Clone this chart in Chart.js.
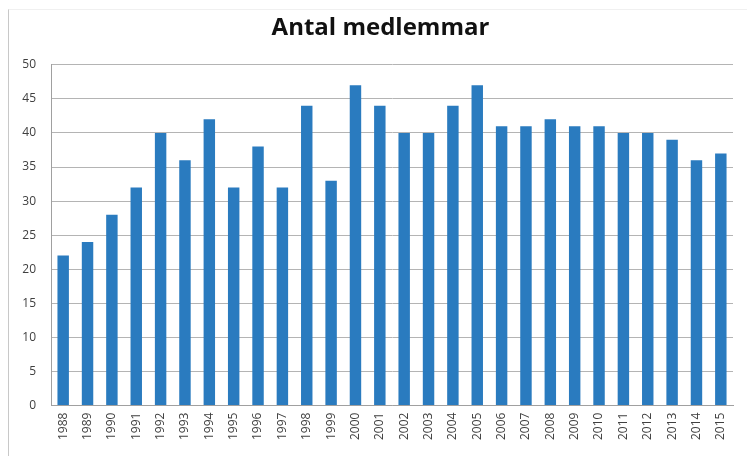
<!DOCTYPE html>
<html>
<head>
<meta charset="utf-8">
<script src="https://cdn.jsdelivr.net/npm/chart.js@4/dist/chart.umd.min.js"></script>
<style>
  html, body { margin: 0; padding: 0; background: #fff; }
  #wrap { position: absolute; left: 0; top: 0; width: 747px; height: 456px; }
  #frame { position: absolute; left: 8px; top: 9px; width: 739px; height: 447px; border-left: 1px solid #c8c8c8; border-top: 1px solid #f0f0f0; }
</style>
</head>
<body>
<div id="wrap">
  <div id="frame"></div>
  <canvas id="chart" width="747" height="456"></canvas>
</div>
<script>
const years = ['1988', '1989', '1990', '1991', '1992', '1993', '1994', '1995', '1996', '1997',
  '1998', '1999', '2000', '2001', '2002', '2003', '2004', '2005', '2006', '2007',
  '2008', '2009', '2010', '2011', '2012', '2013', '2014', '2015']
const members = [22, 24, 28, 32, 40, 36, 42, 32, 38, 32,
  44, 33, 47, 44, 40, 40, 44, 47, 41, 41,
  42, 41, 41, 40, 40, 39, 36, 37]

// title sits a little right of the canvas centre in the original
const shiftTitle = {
  id: 'shiftTitle',
  afterLayout(chart) {
    chart.titleBlock.left += 7
    chart.titleBlock.right += 7
  }
}

const myChart = new Chart(
  document.getElementById('chart'),
  {
    type: 'bar',
    data: {
      labels: years,
      datasets: [
        {
          label: 'Antal medlemmar',
          data: members,
          backgroundColor: '#2a7bbf',
          borderWidth: 0,
          categoryPercentage: 1,
          barPercentage: 0.47
        }
      ]
    },
    options: {
      responsive: false,
      animation: false,
      layout: { padding: { left: 14, right: 14, top: 8, bottom: 9 } },
      plugins: {
        legend: { display: false },
        tooltip: { enabled: false },
        title: {
          display: true,
          text: 'Antal medlemmar',
          color: '#111',
          font: { family: 'Open Sans', size: 24, weight: 'bold' },
          padding: { top: 6, bottom: 22 }
        }
      },
      scales: {
        x: {
          grid: { display: false, drawTicks: false },
          border: { color: '#a0a0a0' },
          ticks: {
            color: '#404040',
            font: { family: 'Open Sans', size: 12 },
            minRotation: 90,
            maxRotation: 90,
            padding: 7
          }
        },
        y: {
          min: 0,
          max: 50,
          afterFit: (axis) => { axis.width = 37 },
          grid: { color: '#b4b4b4', drawTicks: false },
          border: { color: '#a0a0a0' },
          ticks: {
            stepSize: 5,
            color: '#404040',
            font: { family: 'Open Sans', size: 12 },
            padding: 15
          }
        }
      }
    },
    plugins: [shiftTitle]
  }
)
</script>
</body>
</html>
